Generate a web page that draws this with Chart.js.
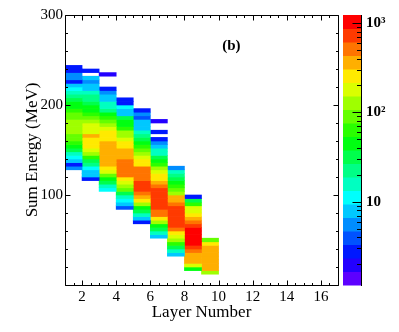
<!DOCTYPE html>
<html>
<head>
<meta charset="utf-8">
<script src="https://cdn.jsdelivr.net/npm/chart.js@4.4.0/dist/chart.umd.min.js"></script>
<style>
    html, body { margin: 0; padding: 0; background: #fff; }
    #wrap { width: 399px; height: 332px; }
</style>
</head>
<body>
<div id="wrap"><canvas id="chart" width="399" height="332"></canvas></div>
<script>
// layer bins (lower edge), energy bin size and first filled energy bin of each layer
const layers = [1, 2, 3, 4, 5, 6, 7, 8, 9]
const binSize = 4
const firstBin = [128, 116, 104, 84, 68, 52, 32, 16, 12]

// entries per 4 MeV bin, from the lowest filled bin upwards
const layer1 = [6, 3, 8, 11, 16, 30, 44, 62, 85, 95, 120, 135, 130, 125, 92, 88, 66, 47, 42, 31, 22, 15, 11, 8, 3, 5, 6, 3, 3]
const layer2 = [3, 8, 9, 11, 21, 30, 60, 115, 170, 240, 260, 250, 340, 190, 175, 160, 130, 95, 68, 50, 40, 33, 24, 20, 15, 8, 7, 5, 7, 0, 3]
const layer3 = [11, 15, 30, 46, 88, 170, 240, 330, 360, 380, 390, 370, 350, 320, 270, 250, 220, 165, 120, 80, 60, 42, 24, 17, 14, 8, 7, 6, 3, 0, 0, 0, 2]
const layer4 = [4, 8, 11, 16, 30, 85, 115, 170, 240, 470, 500, 520, 510, 460, 400, 350, 330, 280, 250, 200, 140, 110, 60, 45, 40, 30, 8, 7, 11, 3, 3]
const layer5 = [3, 8, 15, 32, 45, 110, 230, 360, 500, 700, 720, 650, 560, 540, 500, 450, 270, 230, 190, 140, 90, 60, 42, 30, 22, 15, 8, 8, 7, 4, 5, 3]
const layer6 = [8, 14, 30, 44, 115, 240, 450, 560, 650, 720, 760, 740, 700, 640, 520, 380, 260, 230, 170, 120, 62, 45, 32, 17, 14, 8, 6, 3, 0, 3, 0, 0, 2]
const layer7 = [8, 15, 30, 62, 120, 175, 260, 480, 640, 700, 850, 780, 740, 690, 560, 380, 330, 120, 88, 60, 44, 30, 21, 15, 6]
const layer8 = [42, 180, 350, 380, 400, 520, 700, 900, 1000, 1050, 980, 870, 760, 560, 400, 270, 200, 180, 62, 30, 3]
const layer9 = [120, 330, 360, 370, 350, 340, 330, 310, 260, 85]
const layerCounts = [layer1, layer2, layer3, layer4, layer5, layer6, layer7, layer8, layer9]

const xTicks = [2, 4, 6, 8, 10, 12, 14, 16]
const yTicks = [100, 200, 300]
const zTicks = [10, 100, 1000]
const zTickLabels = ['10', '10²', '10³']
const zMin = 1.17
const zMax = 1230

// rainbow palette, bottom (low) to top (high)
const palette = ['#5d00ff', '#2300ff', '#0018ff', '#0052ff', '#008dff', '#00c8ff', '#00fffc', '#00ffc1', '#00ff86', '#00ff4c',
    '#00ff11', '#2aff00', '#64ff00', '#9fff00', '#daff00', '#ffea00', '#ffaf00', '#ff7400', '#ff3a00', '#ff0000']

const serif = "'Liberation Serif', 'Times New Roman', serif"
Chart.defaults.font.family = serif
Chart.defaults.font.size = 15
Chart.defaults.color = '#000'

function colorFor(n) {
    const lo = Math.log10(zMin), hi = Math.log10(zMax)
    let i = Math.floor((Math.log10(n) - lo) / (hi - lo) * palette.length)
    i = Math.max(0, Math.min(palette.length - 1, i))
    return palette[i]
}

// fixed box sizes so the plot frame lands where ROOT put it
function fixBox(w, h) {
    return s => {
        if (w) s.width = w
        if (h) s.height = h
        s.paddingTop = 0
        s.paddingBottom = 0
        s.paddingLeft = 0
        s.paddingRight = 0
    }
}

const datasets = layerCounts.map((counts, i) => {
    const cells = []
    counts.forEach((n, k) => {
        if (n <= 0) return
        const e0 = firstBin[i] + k * binSize
        cells.push({ x: layers[i] + 0.5, y: [e0, e0 + binSize], n: n })
    })
    return {
        data: cells,
        xAxisID: 'x',
        yAxisID: 'y',
        grouped: false,
        barPercentage: 1,
        categoryPercentage: 1,
        borderWidth: 0,
        backgroundColor: ctx => colorFor(ctx.raw.n)
    }
})

// ROOT style frame, inward ticks on all sides, palette and the "(b)" label
const rootFrame = {
    id: 'rootFrame',
    afterDatasetsDraw(chart) {
        const { ctx, chartArea: a, scales: { x, y, z } } = chart
        ctx.save()

        // colour palette
        const lo = Math.log10(zMin), hi = Math.log10(zMax)
        const p0 = a.right + 5, p1 = a.right + 23
        palette.forEach((c, i) => {
            const yb = z.getPixelForValue(Math.pow(10, lo + (hi - lo) * i / palette.length))
            const yt = z.getPixelForValue(Math.pow(10, lo + (hi - lo) * (i + 1) / palette.length))
            ctx.fillStyle = c
            ctx.fillRect(p0, yt, p1 - p0, yb - yt + 0.5)
        })

        ctx.strokeStyle = '#000'
        ctx.lineWidth = 1
        ctx.beginPath()
        const L = Math.round(a.left) + 0.5, R = Math.round(a.right) + 0.5
        const T = Math.round(a.top) + 0.5, B = Math.round(a.bottom) + 0.5
        ctx.rect(L, T, R - L, B - T)

        for (let v = 1; v <= 17; v += 0.5) {
            const px = Math.round(x.getPixelForValue(v)) + 0.5
            const len = v % 2 === 0 ? 5 : 2.5
            ctx.moveTo(px, B); ctx.lineTo(px, B - len)
            ctx.moveTo(px, T); ctx.lineTo(px, T + len)
        }
        for (let v = 0; v <= 300; v += 20) {
            const py = Math.round(y.getPixelForValue(v)) + 0.5
            const len = v % 100 === 0 ? 5 : 2.5
            ctx.moveTo(L, py); ctx.lineTo(L + len, py)
            ctx.moveTo(R, py); ctx.lineTo(R - len, py)
        }

        // palette axis
        const zx = Math.round(p1) + 0.5
        ctx.moveTo(zx, Math.round(a.top)); ctx.lineTo(zx, Math.round(a.bottom) + 1)
        for (let d = 0; d <= 3; d++) {
            for (let m = 1; m <= 9; m++) {
                const v = m * Math.pow(10, d)
                if (v < zMin || v > zMax) continue
                const py = Math.round(z.getPixelForValue(v)) + 0.5
                const len = m === 1 ? 9 : 4.5
                ctx.moveTo(zx, py); ctx.lineTo(zx - len, py)
            }
        }
        ctx.stroke()

        ctx.fillStyle = '#000'
        ctx.font = 'bold 15px ' + serif
        ctx.textAlign = 'center'
        ctx.textBaseline = 'middle'
        ctx.fillText('(b)', x.getPixelForValue(10.75), y.getPixelForValue(265))
        ctx.restore()
    }
}

new Chart(document.getElementById('chart'), {
    type: 'bar',
    data: { datasets: datasets },
    options: {
        responsive: false,
        animation: false,
        events: [],
        layout: { padding: { top: 15, left: 0, right: 0, bottom: 0 } },
        plugins: { legend: { display: false }, tooltip: { enabled: false } },
        scales: {
            x: {
                type: 'linear',
                min: 1,
                max: 17,
                offset: false,
                grid: { display: false, drawTicks: false, offset: false },
                border: { display: false },
                afterBuildTicks: s => { s.ticks = xTicks.map(v => ({ value: v })) },
                afterFit: fixBox(0, 47),
                ticks: { padding: 3, maxRotation: 0, autoSkip: false },
                title: { display: true, text: 'Layer Number', font: { size: 17 }, padding: { top: 0, bottom: 9 } }
            },
            y: {
                type: 'linear',
                min: 0,
                max: 300,
                grid: { display: false, drawTicks: false },
                border: { display: false },
                afterBuildTicks: s => { s.ticks = yTicks.map(v => ({ value: v })) },
                afterFit: fixBox(65, 0),
                ticks: { padding: 2 },
                title: { display: true, text: 'Sum Energy (MeV)', font: { size: 17 }, padding: { top: 22, bottom: 0 } }
            },
            z: {
                type: 'logarithmic',
                axis: 'y',
                position: 'right',
                min: zMin,
                max: zMax,
                grid: { display: false, drawTicks: false },
                border: { display: false },
                afterBuildTicks: s => { s.ticks = zTicks.map(v => ({ value: v })) },
                afterFit: fixBox(61, 0),
                ticks: { padding: 28, font: { weight: 'bold' }, callback: (v, i) => zTickLabels[i] }
            }
        }
    },
    plugins: [rootFrame]
})
</script>
</body>
</html>
